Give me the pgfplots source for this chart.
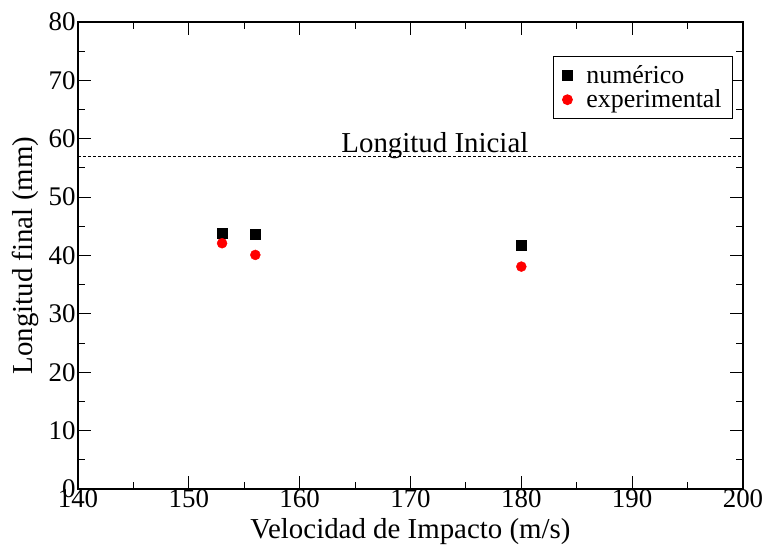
\documentclass[border=0pt]{standalone}
\usepackage{fontspec}
\setmainfont{Liberation Serif}
\usepackage{pgfplots}
\pgfplotsset{compat=1.18}
\begin{document}
\begin{tikzpicture}[x=1bp,y=1bp]
\path[use as bounding box] (-78bp,-60bp) rectangle (692bp,489bp);
\begin{axis}[
  at={(0,0)}, anchor=south west,
  scale only axis, width=665bp, height=467bp,
  xmin=140, xmax=200, ymin=0, ymax=80,
  xtick={140,150,...,200}, ytick={0,10,...,80},
  minor x tick num=1, minor y tick num=1,
  tick align=inside, ticks=both,
  major tick length=13bp, minor tick length=7bp,
  axis line style={line width=1.3bp},
  every tick/.style={line width=1bp, black},
  /pgf/number format/assume math mode=true,
  tick label style={font=\fontsize{27}{30}\selectfont},
  xticklabel style={yshift=3bp},
  yticklabel style={xshift=1bp},
  label style={font=\fontsize{29}{32}\selectfont},
  xlabel={Velocidad de Impacto (m/s)},
  ylabel={Longitud final (mm)},
  xlabel style={yshift=-4bp},
  ylabel style={yshift=3bp},
  legend style={at={(0.985,0.927)}, anchor=north east, font=\fontsize{26}{28}\selectfont,
     draw=black, line width=0.8bp, inner xsep=9bp, inner ysep=7bp, row sep=1bp,
     /tikz/every odd column/.style={column sep=12bp}},
  legend cell align=left,
]
\addplot[only marks, mark=square*, mark size=5bp, black] coordinates {(153,43.9) (156,43.6) (180,41.7)};
\addlegendentry{numérico}
\addplot[only marks, mark=*, mark size=5bp, red, mark options={draw=red, fill=red}] coordinates {(153,42.1) (156,40.1) (180,38.1)};
\addlegendentry{experimental}
\addplot[black, dashed, line width=0.7bp, dash pattern=on 3bp off 2bp, forget plot] coordinates {(140,57) (200,57)};
\node[font=\fontsize{29}{32}\selectfont, anchor=base] at (axis cs:172.2,57.6) {Longitud Inicial};
\end{axis}
\end{tikzpicture}
\end{document}
